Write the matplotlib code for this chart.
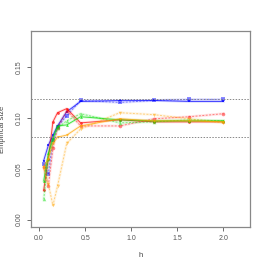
import numpy as np
import matplotlib.pyplot as plt

plt.rcParams['font.family'] = ['Liberation Sans', 'DejaVu Sans']

# bandwidths
h = [0.05, 0.1, 0.15, 0.2, 0.3, 0.45, 0.875, 1.25, 1.625, 2.0]

# empirical sizes
blue_solid = [0.058, 0.073, 0.083, 0.092, 0.106, 0.116, 0.117, 0.117, 0.116, 0.116]
blue_dot = [0.055, 0.045, 0.078, 0.091, 0.102, 0.117, 0.115, 0.117, 0.118, 0.118]
red_solid = [0.029, 0.060, 0.096, 0.105, 0.109, 0.095, 0.098, 0.096, 0.096, 0.096]
red_dot = [0.052, 0.033, 0.070, 0.090, 0.107, 0.092, 0.092, 0.099, 0.101, 0.104]
green_solid = [0.038, 0.065, 0.080, 0.092, 0.093, 0.101, 0.098, 0.097, 0.097, 0.097]
green_dot = [0.020, 0.060, 0.078, 0.090, 0.097, 0.104, 0.095, 0.096, 0.098, 0.097]
orange_solid = [0.052, 0.060, 0.075, 0.081, 0.083, 0.092, 0.099, 0.097, 0.097, 0.096]
orange_dot = [0.050, 0.035, 0.014, 0.033, 0.075, 0.089, 0.105, 0.103, 0.099, 0.095]

band = [0.0814, 0.1186]

fig = plt.figure(figsize=(2.66, 2.66), dpi=100)
ax = fig.add_axes([0.1165, 0.1466, 0.8235, 0.737])

series = [
    ('#0000ff', blue_solid, blue_dot, 's'),
    ('#ff0000', red_solid, red_dot, 'o'),
    ('#00dd00', green_solid, green_dot, '^'),
    ('#ffa500', orange_solid, orange_dot, 'v'),
]
for col, sol, dot, mk in series:
    ax.plot(h, sol, color=col, lw=2.0, alpha=0.12)
    ax.plot(h, dot, color=col, lw=2.0, alpha=0.10)
    ax.plot(h, sol, color=col, lw=0.7, alpha=0.7, marker=mk, ms=2, mew=0)
    ax.plot(h, dot, color=col, lw=0.7, alpha=0.45, ls=(0, (2, 1.5)),
            marker=mk, ms=2.6, mew=0)

for b in band:
    ax.axhline(b, color='#888888', lw=0.7, ls=(0, (1.5, 1.5)))

ax.set_xlim(-0.088, 2.288)
ax.set_ylim(-0.0072, 0.1852)
ax.set_xticks([0.0, 0.5, 1.0, 1.5, 2.0])
ax.set_yticks([0.00, 0.05, 0.10, 0.15])
ax.set_xticklabels(['0.0', '0.5', '1.0', '1.5', '2.0'])
ax.set_yticklabels(['0.00', '0.05', '0.10', '0.15'], rotation=90, va='center')
ax.tick_params(labelsize=5, colors='#555555', length=3, width=0.6, pad=3)
for s in ax.spines.values():
    s.set_color('#888888')
    s.set_linewidth(0.9)
ax.set_xlabel('h', fontsize=5.5, color='#444444', labelpad=7)
ax.set_ylabel('Empirical size', fontsize=5.5, color='#444444', labelpad=7)

fig.savefig('out.png', dpi=100)
